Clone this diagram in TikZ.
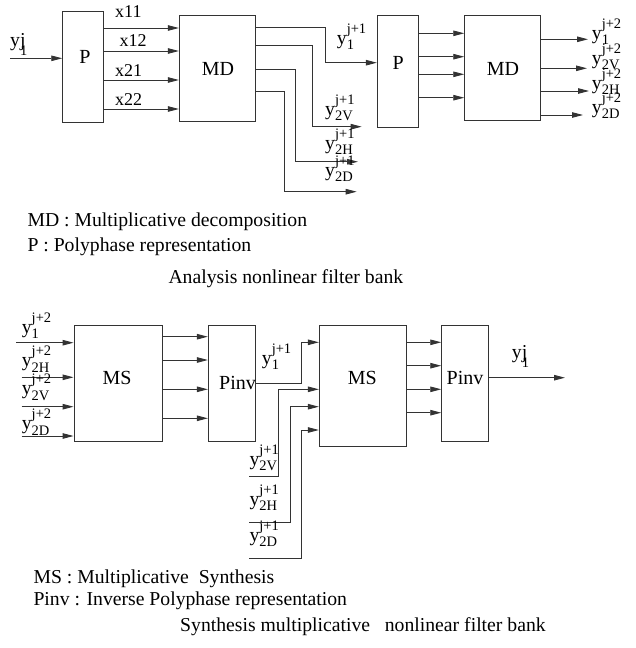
\documentclass[tikz,border=0pt]{standalone}
\usepackage{fontspec}
\setmainfont{Liberation Serif}
\usetikzlibrary{arrows.meta}
\newcommand{\scrfont}{\fontsize{14.5}{14.5}\selectfont}
\newcommand{\ylab}[2]{y\makebox[0pt][l]{\raisebox{0.55em}{\scrfont #1}}\raisebox{-0.3em}{\scrfont #2}}
\newcommand{\yjlab}{y\makebox[0pt][l]{j}\raisebox{-0.5em}{\scrfont 1}}
\tikzset{
  box/.style={draw=black!80, line width=0.9pt, inner sep=0pt},
  wire/.style={draw=black!80, line width=0.9pt},
  arr/.style={wire, -{Triangle[length=11pt,width=5.5pt]}},
  lab/.style={font=\fontsize{20}{23}\selectfont, inner sep=0pt},
  txt/.style={font=\fontsize{19.7}{23}\selectfont, inner sep=0pt, anchor=base west},
  xlab/.style={font=\fontsize{18}{20}\selectfont, inner sep=0pt, anchor=base west}
}
\begin{document}
\begin{tikzpicture}[x=1pt,y=-1pt]
\useasboundingbox (0,0) rectangle (635,648);
% ---------- Analysis ----------
\node[box, minimum width=40.6pt, minimum height=111pt] (P1) at (83,66.5) {};
\node[box, minimum width=76.4pt, minimum height=105.3pt] (MD1) at (217.5,68.35) {};
\node[box, minimum width=41pt, minimum height=111.3pt] (P2) at (397.8,71.35) {};
\node[box, minimum width=76pt, minimum height=105pt] (MD2) at (502.7,68.2) {};
\node[lab] (P1t) at (85,57.3) {P};
\node[lab] (MD1t) at (218,69) {MD};
\node[lab] (P2t) at (398.3,63.3) {P};
\node[lab] (MD2t) at (503,69) {MD};

\coordinate (yin) at (10,58.3);
\draw[arr] (yin) -- (P1.west|-yin);
\node[txt] (yinl) at (10,46) {\yjlab};

\foreach \yy in {28,51,80,109}
  \draw[arr] (P1.east|-0,\yy) -- (MD1.west|-0,\yy);
\node[xlab] (x11) at (115,17) {x11};
\node[xlab] (x12) at (119.3,46.7) {x12};
\node[xlab] (x21) at (115,76) {x21};
\node[xlab] (x22) at (115,105) {x22};

\draw[arr] (MD1.east|-0,27.7) -| (325,62.7) -- (P2.west|-0,62.7);
\coordinate (o2V) at (361.7,126.7);
\coordinate (o2H) at (358,161.7);
\coordinate (o2D) at (356.7,191.7);
\draw[arr] (MD1.east|-0,45) -| (312.7,126.7) -- (o2V);
\draw[arr] (MD1.east|-0,69) -| (295,161.7) -- (o2H);
\draw[arr] (MD1.east|-0,91.7) -| (284,191.7) -- (o2D);
\node[txt] (l1a) at (336.7,44) {\ylab{j+1}{1}};
\node[txt] (l2Va) at (325,115) {\ylab{j+1}{2V}};
\node[txt] (l2Ha) at (325,149) {\ylab{j+1}{2H}};
\node[txt] (l2Da) at (325,176) {\ylab{j+1}{2D}};

\foreach \yy in {33.3,56.7,74.3,97.7}
  \draw[arr] (P2.east|-0,\yy) -- (MD2.west|-0,\yy);
\coordinate (e1) at (588,39.3);
\coordinate (e2) at (587,68.3);
\coordinate (e3) at (589,91);
\coordinate (e4) at (583,115);
\draw[arr] (MD2.east|-e1) -- (e1);
\draw[arr] (MD2.east|-e2) -- (e2);
\draw[arr] (MD2.east|-e3) -- (e3);
\draw[arr] (MD2.east|-e4) -- (e4);
\node[txt] (r1) at (591.7,39) {\ylab{j+2}{1}};
\node[txt] (r2) at (591.7,64) {\ylab{j+2}{2V}};
\node[txt] (r3) at (591.7,89) {\ylab{j+2}{2H}};
\node[txt] (r4) at (591.7,113) {\ylab{j+2}{2D}};

\node[txt] (t1) at (27.3,226.7) {MD : Multiplicative decomposition};
\node[txt] (t2) at (27.3,251.7) {P : Polyphase representation};
\node[txt] (t3) at (168.3,283.3) {Analysis nonlinear filter bank};

% ---------- Synthesis ----------
\node[box, minimum width=88.3pt, minimum height=116.7pt] (MS1) at (118.15,383.35) {};
\node[box, minimum width=46.7pt, minimum height=116.7pt] (PI1) at (231.65,383.35) {};
\node[box, minimum width=87.4pt, minimum height=121.7pt] (MS2) at (363,385.85) {};
\node[box, minimum width=46.6pt, minimum height=116.7pt] (PI2) at (465,383.35) {};
\node[lab] (MS1t) at (117,378) {MS};
\node[lab] (PI1t) at (237.5,382.7) {Pinv};
\node[lab] (MS2t) at (362.3,378.3) {MS};
\node[lab] (PI2t) at (465,378.3) {Pinv};

\coordinate (s1) at (16,342.7);
\coordinate (s2) at (21.7,377.3);
\coordinate (s3) at (21.7,406.7);
\coordinate (s4) at (21.7,436);
\draw[arr] (s1) -- (MS1.west|-s1);
\draw[arr] (s2) -- (MS1.west|-s2);
\draw[arr] (s3) -- (MS1.west|-s3);
\draw[arr] (s4) -- (MS1.west|-s4);
\node[txt] (q1) at (21.7,333) {\ylab{j+2}{1}};
\node[txt] (q2) at (21.7,366.5) {\ylab{j+2}{2H}};
\node[txt] (q3) at (21.7,394.5) {\ylab{j+2}{2V}};
\node[txt] (q4) at (21.7,429.5) {\ylab{j+2}{2D}};

\foreach \yy in {336.7,360,389.3,418.3}
  \draw[arr] (MS1.east|-0,\yy) -- (PI1.west|-0,\yy);

\draw[arr] (PI1.east|-0,383.3) -| (301.7,342.3) -- (MS2.west|-0,342.3);
\node[txt] (p1) at (261.7,364) {\ylab{j+1}{1}};

\coordinate (i2V) at (249.3,476.7);
\coordinate (i2H) at (249.3,522.7);
\coordinate (i2D) at (249.3,558.3);
\draw[arr] (i2V) -| (278.3,389.3) -- (MS2.west|-0,389.3);
\draw[arr] (i2H) -| (290,406.7) -- (MS2.west|-0,406.7);
\draw[arr] (i2D) -| (301.7,430) -- (MS2.west|-0,430);
\node[txt] (b1) at (249.3,465) {\ylab{j+1}{2V}};
\node[txt] (b2) at (249.3,505) {\ylab{j+1}{2H}};
\node[txt] (b3) at (249.3,541) {\ylab{j+1}{2D}};

\foreach \yy in {342.3,365.7,389.3,412.7}
  \draw[arr] (MS2.east|-0,\yy) -- (PI2.west|-0,\yy);

\coordinate (yout) at (565,377.7);
\draw[arr] (PI2.east|-yout) -- (yout);
\node[txt] (youtl) at (511.7,358) {\yjlab};

\node[txt] (u1) at (33.3,583.3) {MS : Multiplicative\ \ Synthesis};
\node[txt] (u2) at (33.3,605.7) {Pinv : Inverse Polyphase representation};
\node[txt] (u3) at (180,631.7) {Synthesis multiplicative\ \ \ nonlinear filter bank};
\end{tikzpicture}
\end{document}
